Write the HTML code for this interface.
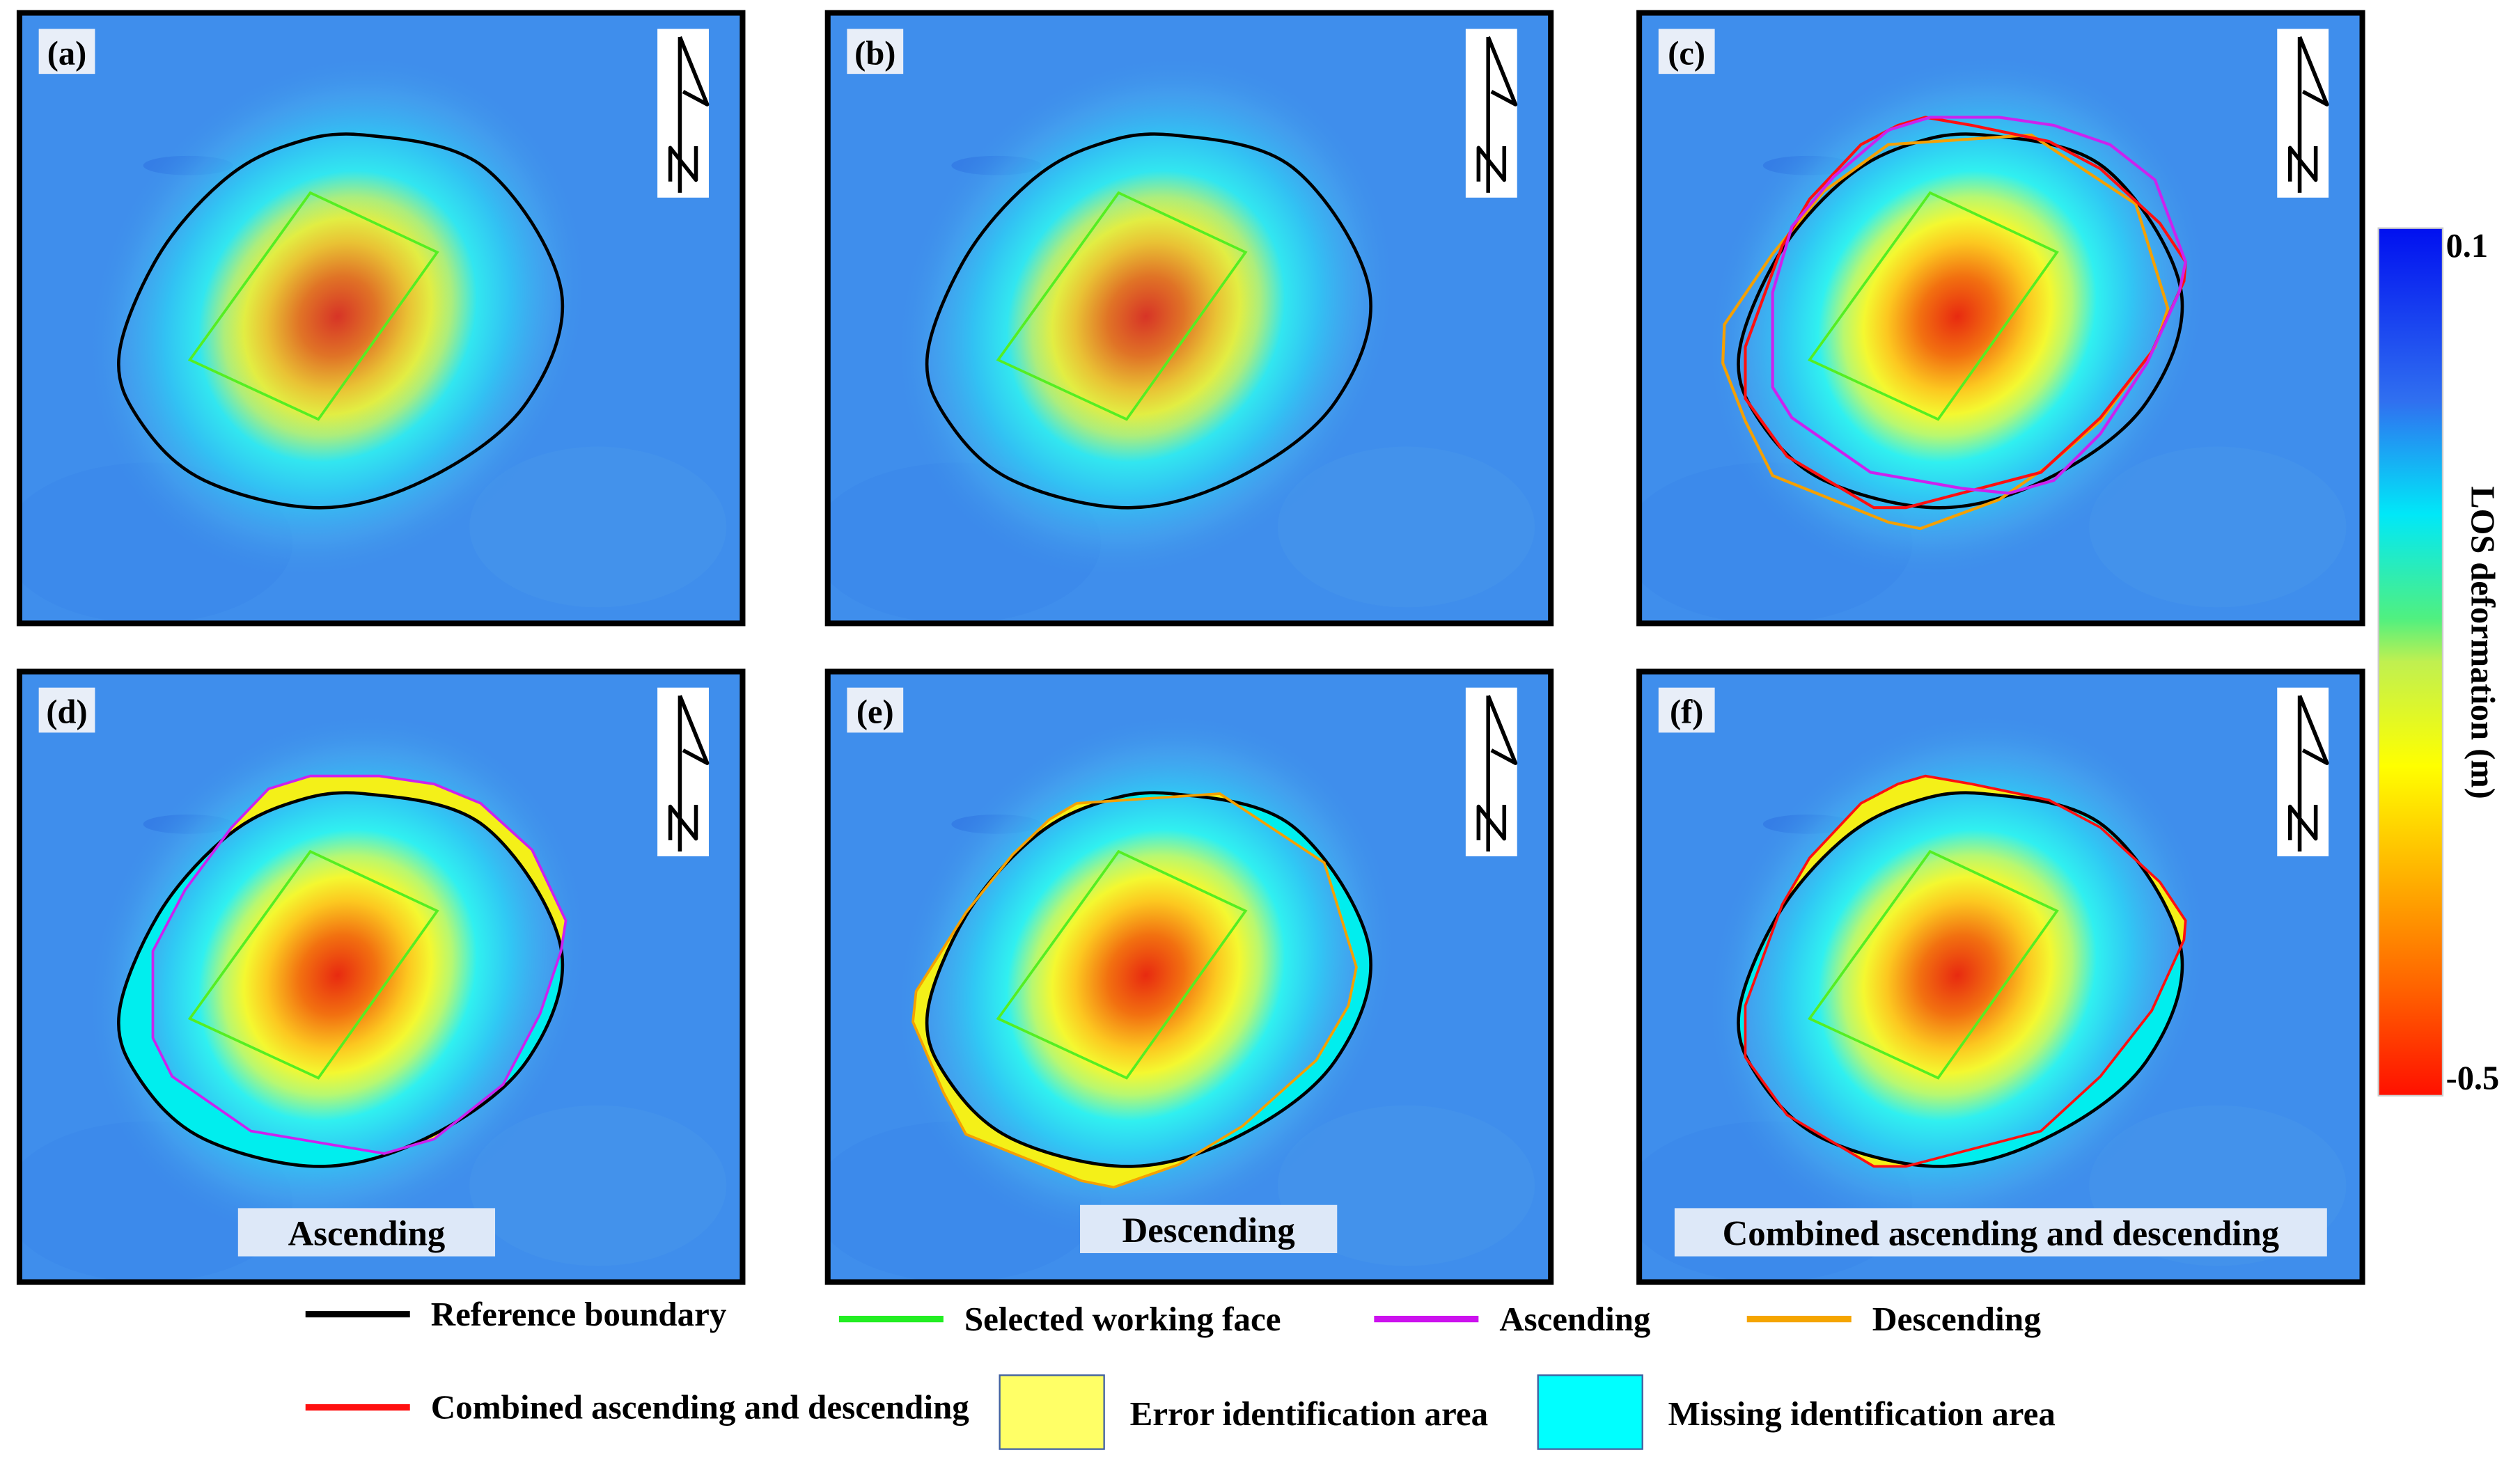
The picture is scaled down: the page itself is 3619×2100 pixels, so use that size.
<!DOCTYPE html>
<html><head><meta charset="utf-8"><style>
html,body{margin:0;padding:0;background:#fff;}
svg{display:block;}
text{font-family:"Liberation Serif",serif;font-weight:bold;}
</style></head><body>
<svg id="fig" width="3619" height="2100" viewBox="0 0 1568 910" xmlns="http://www.w3.org/2000/svg">
<defs>
<radialGradient id="blob" cx="0.5" cy="0.5" r="0.5">
<stop offset="0" stop-color="#e82a10"/>
<stop offset="0.15" stop-color="#f27010"/>
<stop offset="0.28" stop-color="#fcc820"/>
<stop offset="0.37" stop-color="#f4f830"/>
<stop offset="0.45" stop-color="#b8f870"/>
<stop offset="0.55" stop-color="#30f0f0"/>
<stop offset="0.68" stop-color="#30c8f4"/>
<stop offset="0.84" stop-color="#45aaf0" stop-opacity="0.6"/>
<stop offset="1" stop-color="#3c8ce8" stop-opacity="0"/>
</radialGradient>
<linearGradient id="cbar" x1="0" y1="0" x2="0" y2="1">
<stop offset="0" stop-color="#0010f0"/>
<stop offset="0.2" stop-color="#3070f0"/>
<stop offset="0.33" stop-color="#00e8f8"/>
<stop offset="0.45" stop-color="#50f080"/>
<stop offset="0.5" stop-color="#c0f050"/>
<stop offset="0.62" stop-color="#ffff00"/>
<stop offset="0.75" stop-color="#ffb000"/>
<stop offset="0.88" stop-color="#ff6000"/>
<stop offset="1" stop-color="#ff1000"/>
</linearGradient>
</defs>
</svg>
<script>
const panelIds = ['a','b','c','d','e','f'];
const panelX = [12,515,1020,12,515,1020];
const panelY = [8,8,8,418,418,418];
const blobStrength = [0.9,0.9,1,1,1,1];
// Reference boundary (local coords)
const refX = [214,289,337,316,258,189,115,75,62,86,125,165];
const refY = [76,96,172,242,288,308,291,254,213,152,106,83];
const faceX = [181,260,186,106];
const faceY = [112,149,253,216];
const ascX = [181,224,258,287,319,340,337,324,301,258,227,144,95,83,83,103,132,155];
const ascY = [65,65,70,82,111,155,174,213,257,291,300,286,252,228,174,136,97,73];
const desX = [155,244,309,329,324,304,258,218,178,158,86,72,53,55,86,115,138];
const desY = [82,76,119,184,208,242,283,307,321,317,288,262,218,199,150,114,92];
const comX = [178,207,255,287,324,340,339,319,287,250,166,146,92,66,66,89,106,138,161];
const comY = [65,70,80,97,131,155,167,211,252,286,308,308,276,240,208,145,116,82,70];
const cAscX = [181,224,258,293,321,340,336,316,287,258,230,201,144,95,83,83,95,121,155];
const cAscY = [65,65,70,82,104,155,174,218,262,291,299,296,286,252,233,174,133,102,73];
const cDesX = [155,244,309,329,321,287,253,224,175,155,83,66,52,53,83,115];
const cDesY = [82,76,119,184,208,254,283,303,321,317,288,254,218,194,150,111];
const bottomLabels = ['','','','Ascending','Descending','Combined ascending and descending'];

const NS='http://www.w3.org/2000/svg';
const svg=document.getElementById('fig');
const defs=svg.querySelector('defs');
function mk(tag,attrs,parent){const e=document.createElementNS(NS,tag);for(const k in attrs)e.setAttribute(k,attrs[k]);(parent||svg).appendChild(e);return e;}
function pts(xs,ys){return xs.map((x,i)=>x+','+ys[i]).join(' ');}
function smooth(xs,ys){
  const n=xs.length;let d='M'+xs[0]+' '+ys[0];
  for(let i=0;i<n;i++){
    const p0=(i-1+n)%n,p1=i,p2=(i+1)%n,p3=(i+2)%n;
    const c1x=xs[p1]+(xs[p2]-xs[p0])/6,c1y=ys[p1]+(ys[p2]-ys[p0])/6;
    const c2x=xs[p2]-(xs[p3]-xs[p1])/6,c2y=ys[p2]-(ys[p3]-ys[p1])/6;
    d+=` C${c1x.toFixed(1)} ${c1y.toFixed(1)} ${c2x.toFixed(1)} ${c2y.toFixed(1)} ${xs[p2]} ${ys[p2]}`;
  }
  return d+' Z';
}
const refPath=smooth(refX,refY);

const cpRef=mk('clipPath',{id:'cpRef'},defs); mk('path',{d:refPath},cpRef);
const cpAsc=mk('clipPath',{id:'cpAsc'},defs); mk('polygon',{points:pts(ascX,ascY)},cpAsc);
const cpDes=mk('clipPath',{id:'cpDes'},defs); mk('polygon',{points:pts(desX,desY)},cpDes);
const cpCom=mk('clipPath',{id:'cpCom'},defs); mk('polygon',{points:pts(comX,comY)},cpCom);
const cpPanel=mk('clipPath',{id:'cpPanel'},defs); mk('rect',{x:0,y:0,width:450,height:380},cpPanel);

function heat(parent,s){
  mk('rect',{x:0,y:0,width:450,height:380,fill:'#3f8eec'},parent);
  mk('ellipse',{cx:80,cy:330,rx:90,ry:50,fill:'#3580e8',opacity:0.3},parent);
  mk('ellipse',{cx:360,cy:320,rx:80,ry:50,fill:'#4a9cec',opacity:0.35},parent);
  mk('ellipse',{cx:105,cy:95,rx:28,ry:6,fill:'#2c6ee0',opacity:0.5},parent);
  mk('ellipse',{cx:198,cy:189,rx:172,ry:150,fill:'url(#blob)',opacity:s,transform:'rotate(-55 198 189)'},parent);
}

panelIds.forEach((id,i)=>{
  const g=mk('g',{transform:`translate(${panelX[i]},${panelY[i]})`});
  
  
  const inner=mk('g',{'clip-path':'url(#cpPanel)'},g);
  heat(inner,blobStrength[i]);
  let poly=null;
  if(id==='d'){poly=[ascX,ascY,'cpAsc','#cc22ee'];}
  if(id==='e'){poly=[desX,desY,'cpDes','#f5a000'];}
  if(id==='f'){poly=[comX,comY,'cpCom','#ff1010'];}
  if(poly){
    mk('polygon',{points:pts(poly[0],poly[1]),fill:'#f4f018'},inner);
    mk('path',{d:refPath,fill:'#00eeee'},inner);
    const c1=mk('g',{'clip-path':'url(#'+poly[2]+')'},inner);
    const c2=mk('g',{'clip-path':'url(#cpRef)'},c1);
    heat(c2,blobStrength[i]);
  }
  const face=mk('polygon',{points:pts(faceX,faceY),fill:'none',stroke:'#55ee22','stroke-width':1.6},g);
  
  
  const ref=mk('path',{d:refPath,fill:'none',stroke:'#000','stroke-width':2},g);
  
  
  if(id==='c'){
    const d=mk('polygon',{points:pts(cDesX,cDesY),fill:'none',stroke:'#f5a000','stroke-width':1.8},g);
    
    
    const r=mk('polygon',{points:pts(comX,comY),fill:'none',stroke:'#ff1010','stroke-width':1.8},g);
    
    
    const a=mk('polygon',{points:pts(cAscX,cAscY),fill:'none',stroke:'#cc22ee','stroke-width':1.8},g);
    
    
  }
  if(poly){
    const l=mk('polygon',{points:pts(poly[0],poly[1]),fill:'none',stroke:poly[3],'stroke-width':1.6},g);
    
    
  }
  mk('rect',{x:12,y:10,width:35,height:28,fill:'#e8eef8'},g);
  const t=mk('text',{x:29.5,y:32,'font-size':21,'text-anchor':'middle'},g);
  t.textContent='('+id+')';
  
  
  const na=mk('g',{},g);
  
  
  mk('rect',{x:397,y:10,width:32,height:105,fill:'#fff'},na);
  mk('path',{d:'M411 15 L411 112 M411 15 L428 57 L413 49 M405 105 L405 84 L421 104 L421 83',fill:'none',stroke:'#000','stroke-width':2.4,'stroke-linejoin':'round'},na);
  if(bottomLabels[i]){
    const w=[0,0,0,160,160,406][i], bx=[0,0,0,136,157,22][i], by=[0,0,0,334,332,334][i];
    mk('rect',{x:bx,y:by,width:w,height:30,fill:'#dde8f8'},g);
    const bt=mk('text',{x:bx+w/2,y:by+23,'font-size':22,'text-anchor':'middle'},g);
    bt.textContent=bottomLabels[i];
    
    
  }
  mk('rect',{x:0,y:0,width:450,height:380,fill:'none',stroke:'#000','stroke-width':3.5},g);
});

const cb=mk('rect',{x:1480,y:142,width:40,height:540,fill:'url(#cbar)',stroke:'#ccc','stroke-width':1});


const cbTicks=['0.1','-0.5'];
const cbTickY=[160,678];
cbTicks.forEach((s,i)=>{const t=mk('text',{x:1522,y:cbTickY[i],'font-size':21});t.textContent=s;

});
const ct=mk('text',{x:0,y:0,'font-size':21,'text-anchor':'middle',transform:'translate(1538,400) rotate(90)'});
ct.textContent='LOS deformation (m)';



const legLabels=['Reference boundary','Selected working face','Ascending','Descending','Combined ascending and descending'];
const legColors=['#000','#22ee22','#cc11ee','#f5a500','#ff1010'];
const legLx=[190,522,855,1087,190];
const legLy=[818,821,821,821,876];
const legTw=[184,197,94,105,335];
legLabels.forEach((s,i)=>{
  const g=mk('g',{});
  
  
  mk('line',{x1:legLx[i],x2:legLx[i]+65,y1:legLy[i],y2:legLy[i],stroke:legColors[i],'stroke-width':4},g);
  const t=mk('text',{x:legLx[i]+78,y:legLy[i]+7,'font-size':21,textLength:legTw[i],lengthAdjust:'spacingAndGlyphs'},g);
  t.textContent=s;
});
const boxLabels=['Error identification area','Missing identification area'];
const boxColors=['#ffff66','#00ffff'];
const boxX=[622,957];
const boxTw=[223,241];
boxLabels.forEach((s,i)=>{
  const g=mk('g',{});
  
  
  mk('rect',{x:boxX[i],y:856,width:65,height:46,fill:boxColors[i],stroke:'#4060a0','stroke-width':1},g);
  const t=mk('text',{x:boxX[i]+81,y:887,'font-size':21,textLength:boxTw[i],lengthAdjust:'spacingAndGlyphs'},g);
  t.textContent=s;
});
</script>
</body></html>
